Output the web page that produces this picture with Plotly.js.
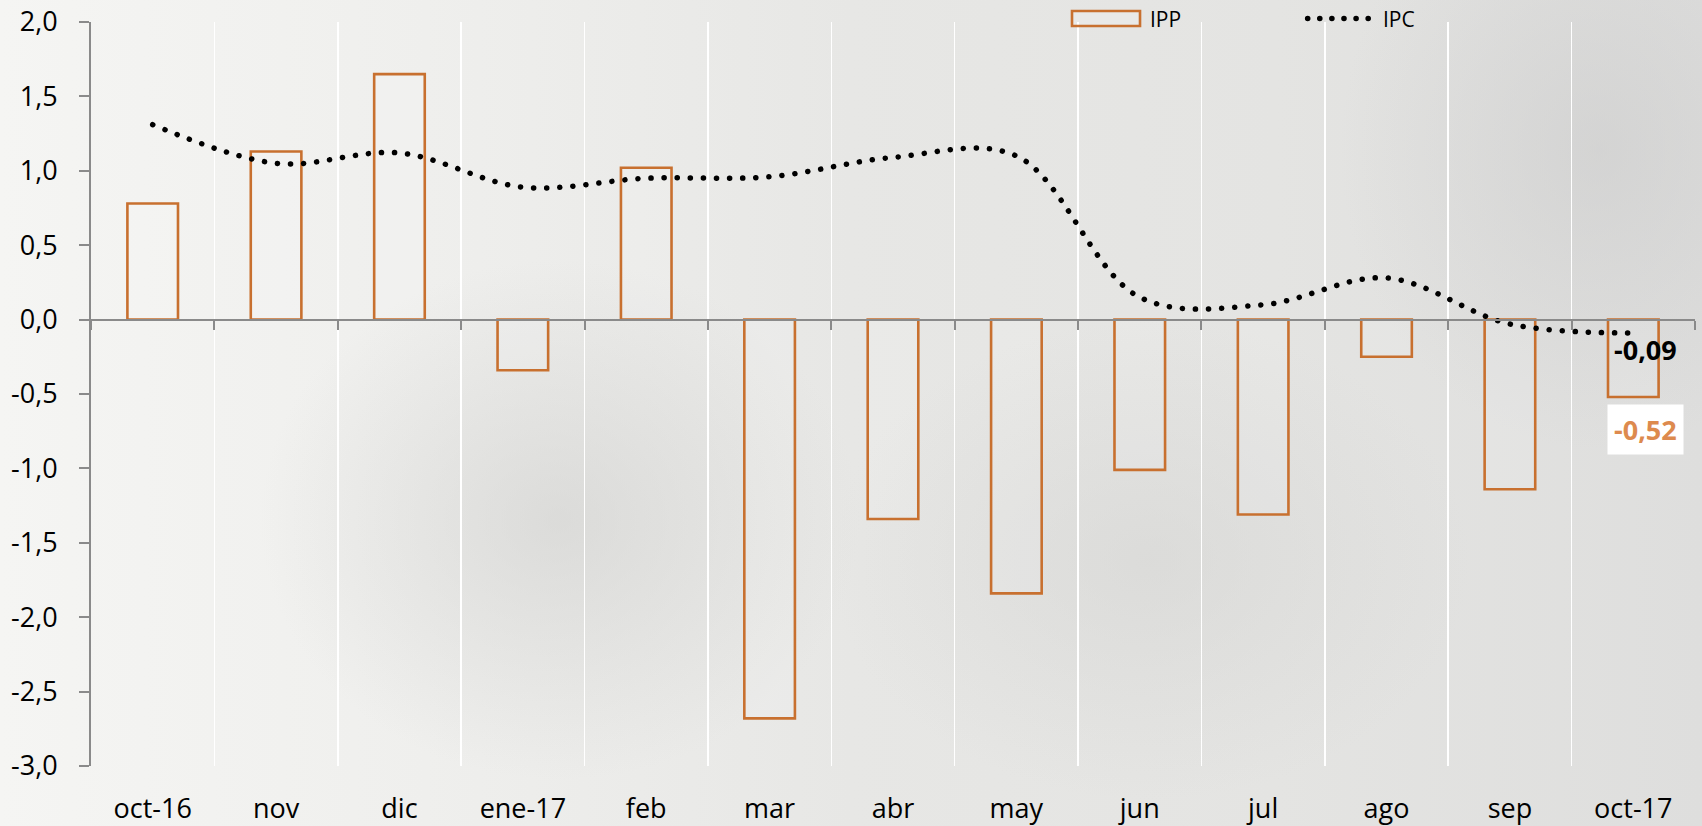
<!DOCTYPE html>
<html>
<head>
<meta charset="utf-8">
<script src="https://cdn.plot.ly/plotly-3.0.1.min.js"></script>
<style>
  html, body { margin: 0; padding: 0; }
  body {
    width: 1702px; height: 826px; overflow: hidden;
    background:
      radial-gradient(ellipse 300px 260px at 560px 520px, rgba(205,205,203,0.55), rgba(205,205,203,0) 100%),
      radial-gradient(ellipse 320px 240px at 1150px 560px, rgba(210,210,208,0.5), rgba(210,210,208,0) 100%),
      radial-gradient(ellipse 260px 300px at 1600px 150px, rgba(200,200,200,0.5), rgba(200,200,200,0) 100%),
      linear-gradient(to right, #f5f5f3 0%, #efefed 25%, #e7e7e5 50%, #e4e4e2 75%, #dededd 100%);
  }
  #chart { width: 1702px; height: 826px; }
  .scatterlayer .js-line { stroke-linecap: round !important; }
  .shapelayer path { stroke-linecap: round !important; }
</style>
</head>
<body>
<div id="chart"></div>
<script>
// ---- data ----
const categories = ['oct-16','nov','dic','ene-17','feb','mar','abr','may','jun','jul','ago','sep','oct-17'];
const ippValues  = [0.78, 1.13, 1.65, -0.34, 1.02, -2.68, -1.34, -1.84, -1.01, -1.31, -0.25, -1.14, -0.52];
const ipcValues  = [1.31, 1.05, 1.12, 0.89, 0.95, 0.96, 1.09, 1.10, 0.15, 0.10, 0.28, -0.03, -0.09];
const yTickVals  = [-3, -2.5, -2, -1.5, -1, -0.5, 0, 0.5, 1, 1.5, 2];
const yTickText  = ['-3,0','-2,5','-2,0','-1,5','-1,0','-0,5','0,0','0,5','1,0','1,5','2,0'];
const seriesNames = ['IPP', 'IPC'];

const fmt = v => v.toFixed(2).replace('.', ',');
const last = categories.length - 1;

const FONT = 'Open Sans, Noto Sans, sans-serif';
const BAR_COLOR = '#C8702F';

const traces = [
  {
    type: 'bar', name: seriesNames[0],
    x: categories, y: ippValues,
    marker: { color: 'rgba(255,255,255,0.12)', line: { color: BAR_COLOR, width: 2.6 } },
    hoverinfo: 'x+y', showlegend: false
  },
  {
    type: 'scatter', mode: 'lines', name: seriesNames[1],
    x: categories, y: ipcValues,
    line: { color: '#000000', width: 5.5, dash: '0.1px,13px', shape: 'spline', smoothing: 1 },
    showlegend: false
  }
];

const layout = {
  width: 1702, height: 826,
  margin: { l: 91, r: 7, t: 22, b: 60 },
  paper_bgcolor: 'rgba(0,0,0,0)',
  plot_bgcolor: 'rgba(0,0,0,0)',
  separators: ',.',
  bargap: 0.59,
  font: { family: FONT, color: '#000' },
  xaxis: {
    type: 'category',
    anchor: 'free', position: 0.6,
    showline: true, linecolor: '#8a8a8a', linewidth: 2,
    ticks: 'outside', tickson: 'boundaries', ticklen: 9, tickwidth: 2, tickcolor: '#8a8a8a',
    showgrid: true, gridcolor: '#ffffff', gridwidth: 1.5,
    tickfont: { family: FONT, size: 27, color: '#000' },
    ticklabelstandoff: 465,
    automargin: false, fixedrange: true
  },
  yaxis: {
    range: [-3, 2],
    tickvals: yTickVals, ticktext: yTickText,
    showline: true, linecolor: '#8a8a8a', linewidth: 2,
    ticks: 'outside', ticklen: 10, tickwidth: 2, tickcolor: '#8a8a8a',
    showgrid: false, zeroline: false,
    tickfont: { family: FONT, size: 27, color: '#000' },
    ticklabelstandoff: 16,
    automargin: false, fixedrange: true
  },
  shapes: [
    { type: 'rect', xref: 'paper', yref: 'paper', x0: 0.6116, x1: 0.654, y0: 0.9946, y1: 1.0148,
      line: { color: BAR_COLOR, width: 2.6 }, fillcolor: 'rgba(255,255,255,0.15)' },
    { type: 'line', xref: 'paper', yref: 'paper', x0: 0.7585, x1: 0.799, y0: 1.0047, y1: 1.0047,
      line: { color: '#000', width: 5.5, dash: '0.1px,12px' } }
  ],
  annotations: [
    { xref: 'paper', yref: 'paper', x: 0.659, y: 1.0047, xanchor: 'left', yanchor: 'middle',
      text: seriesNames[0], showarrow: false, font: { family: FONT, size: 21, color: '#000' } },
    { xref: 'paper', yref: 'paper', x: 0.8045, y: 1.0047, xanchor: 'left', yanchor: 'middle',
      text: seriesNames[1], showarrow: false, font: { family: FONT, size: 21, color: '#000' } },
    { x: categories[last], y: ipcValues[last], xref: 'x', yref: 'y',
      text: fmt(ipcValues[last]), showarrow: false, xanchor: 'center', yanchor: 'middle',
      xshift: 12, yshift: -17,
      font: { family: FONT, size: 27, color: '#000', weight: 'bold' } },
    { x: categories[last], y: ippValues[last], xref: 'x', yref: 'y',
      text: fmt(ippValues[last]), showarrow: false, xanchor: 'center', yanchor: 'middle',
      xshift: 12, yshift: -33, bgcolor: '#ffffff', borderpad: 6,
      font: { family: FONT, size: 27, color: '#DD8A4E', weight: 'bold' } }
  ]
};

Plotly.newPlot('chart', traces, layout, { displayModeBar: false, staticPlot: true });
</script>
</body>
</html>
